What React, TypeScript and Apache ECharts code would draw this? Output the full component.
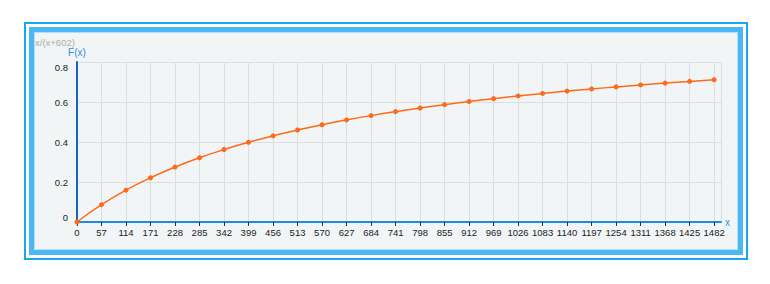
import React, { useEffect, useRef } from "react";
import * as echarts from "echarts";

const xValues = [0, 57, 114, 171, 228, 285, 342, 399, 456, 513, 570, 627, 684, 741, 798, 855, 912, 969, 1026, 1083, 1140, 1197, 1254, 1311, 1368, 1425, 1482];
const fValues = [0, 0.0865, 0.1592, 0.2212, 0.2747, 0.3213, 0.3623, 0.3986, 0.431, 0.4601, 0.4863, 0.5102, 0.5319, 0.5518, 0.57, 0.5868, 0.6024, 0.6168, 0.6302, 0.6427, 0.6544, 0.6654, 0.6756, 0.6853, 0.6944, 0.703, 0.7111];
const yTicks = [0, 0.2, 0.4, 0.6, 0.8];
const chartTitle = "x/(x+602)";
const yName = "F(x)";
const xName = "x";

const FONT = "'Liberation Sans', Arial, sans-serif";

export default function App() {
  const ref = useRef<HTMLDivElement>(null);
  useEffect(() => {
    if (!ref.current) return;
    const chart = echarts.init(ref.current, null, { renderer: "svg" });
    const data = xValues.map((x, i) => [x, fValues[i]]);
    chart.setOption({
      animation: false,
      backgroundColor: "transparent",
      textStyle: { fontFamily: FONT },
      title: {
        text: chartTitle,
        left: 35,
        top: 37,
        padding: 0,
        textStyle: { fontSize: 9.5, color: "#ababab", fontWeight: "normal", fontFamily: FONT },
      },
      grid: { left: 77, right: 49, top: 62, bottom: 62, containLabel: false, outerBoundsMode: "none" },
      xAxis: {
        type: "value",
        min: 0,
        max: 1498,
        interval: 57,
        name: xName,
        nameLocation: "end",
        nameGap: 4,
        nameTextStyle: { color: "#2b8fdc", fontSize: 10, fontFamily: FONT },
        axisLine: { show: true, onZero: false, lineStyle: { color: "#1a8ddd", width: 2 } },
        axisTick: { show: true, length: 4, lineStyle: { color: "#333", width: 1 } },
        axisLabel: {
          show: true,
          margin: 5,
          fontSize: 9.5,
          color: "#222",
          fontFamily: FONT,
          showMaxLabel: false,
          showMinLabel: true,
          formatter: (v: number) => String(v),
        },
        splitLine: { show: true, lineStyle: { color: "#dcdfdf", width: 1 } },
      },
      yAxis: {
        type: "value",
        min: yTicks[0],
        max: yTicks[yTicks.length - 1],
        interval: 0.2,
        name: yName,
        nameLocation: "end",
        nameGap: 5,
        nameTextStyle: { color: "#2b8fdc", fontSize: 10, fontFamily: FONT },
        axisLine: { show: true, lineStyle: { color: "#1565c8", width: 2 } },
        axisTick: { show: false },
        axisLabel: {
          margin: 9,
          fontSize: 9.5,
          color: "#222",
          fontFamily: FONT,
          verticalAlignMinLabel: "bottom",
          verticalAlignMaxLabel: "top",
          formatter: (v: number) => String(v),
        },
        splitLine: { show: true, lineStyle: { color: "#dcdfdf", width: 1 } },
      },
      series: [
        {
          type: "line",
          data,
          smooth: true,
          symbol: "circle",
          symbolSize: 5,
          lineStyle: { color: "#ff6a1a", width: 1.5 },
          itemStyle: { color: "#ff6a1a" },
        },
      ],
    });
    return () => chart.dispose();
  }, []);

  return (
    <div style={{ position: "absolute", left: 0, top: 0, width: 770, height: 284, background: "#fff" }}>
      <div
        style={{
          position: "absolute",
          left: 24,
          top: 22,
          width: 724,
          height: 238,
          boxSizing: "border-box",
          border: "2px solid #1aa6f0",
          background: "#fff",
        }}
      />
      <div
        style={{
          position: "absolute",
          left: 29,
          top: 27,
          width: 714,
          height: 228,
          boxSizing: "border-box",
          border: "5px solid #4ab8f2",
          boxShadow: "inset 0 0 0 1px #b4e0f7",
          background: "#f1f5f6",
        }}
      />
      <div ref={ref} style={{ position: "absolute", left: 0, top: 0, width: 770, height: 284 }} />
    </div>
  );
}
